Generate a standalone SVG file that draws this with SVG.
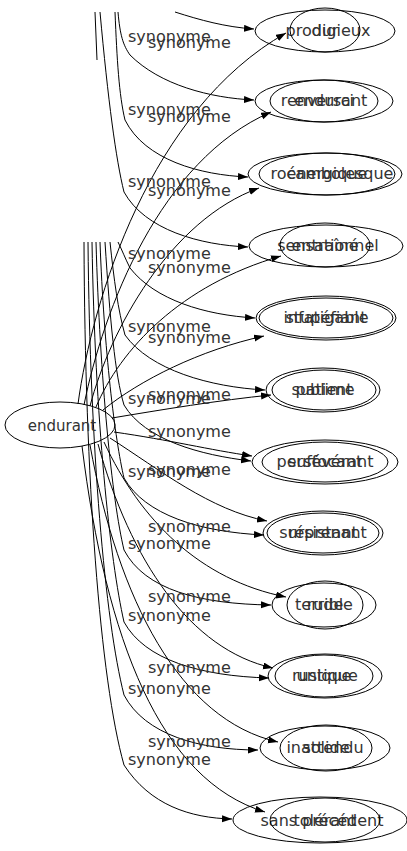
<svg xmlns="http://www.w3.org/2000/svg" width="407" height="851" viewBox="0 0 407 851">
<style>
.n ellipse{fill:none;stroke:#000;stroke-width:1}
.n text,.lbl text{font-family:"DejaVu Sans",sans-serif;font-size:16px;fill:#333}
.n text{text-anchor:middle}
.e path{fill:none;stroke:#000;stroke-width:1}
.e path.a{marker-end:url(#ah)}
</style>
<defs>
<marker id="ah" markerUnits="userSpaceOnUse" markerWidth="11" markerHeight="8" refX="10" refY="3.5" orient="auto">
<path d="M0,0 L10,3.5 L0,7 z" fill="#000"/>
</marker>
</defs>
<rect width="407" height="851" fill="#fff"/>
<g id="edges" class="e">
<path class="a" d="M78,404 C92,300 150,110 286,33"/>
<path class="a" d="M84,405 C103,310 160,160 271,112"/>
<path class="a" d="M90,406 C110,330 170,220 259,188"/>
<path class="a" d="M96,407 C120,350 180,285 281,256"/>
<path class="a" d="M103,410 C140,380 200,350 264,336"/>
<path class="a" d="M112,418 C160,410 220,400 271,395"/>
<path class="a" d="M114,432 C170,440 210,450 252,456"/>
<path class="a" d="M110,438 C160,470 210,510 267,521"/>
<path class="a" d="M104,442 C140,520 200,580 286,597"/>
<path class="a" d="M98,444 C130,560 190,650 273,668"/>
<path class="a" d="M90,445 C118,600 180,720 278,742"/>
<path class="a" d="M82,446 C106,640 160,780 265,812"/>
<path class="a" d="M175,12 C200,20 225,27 254,29"/>
<path class="a" d="M118,12 C120,35 123,45 130,55 C160,85 210,98 254,100"/>
<path class="a" d="M115,12 C117,60 119,95 125,120 C145,160 200,175 248,177"/>
<path class="a" d="M100,12 C108,100 116,160 124,192 C145,230 200,245 248,247"/>
<path d="M95,12 L97,60"/>
<path class="a" d="M118,242 C122,250 125,258 130,268 C155,300 205,315 255,318"/>
<path class="a" d="M110,242 C114,280 118,310 125,335 C150,370 210,387 265,390"/>
<path class="a" d="M105,242 C110,320 115,375 124,405 C145,440 200,455 251,461"/>
<path class="a" d="M100,242 C104,350 115,440 124,478 C145,515 200,532 264,535"/>
<path class="a" d="M96,242 C100,380 112,500 124,550 C145,590 200,604 271,605"/>
<path class="a" d="M92,242 C95,420 110,560 124,622 C145,660 200,676 269,678"/>
<path class="a" d="M88,242 C90,450 105,620 124,695 C145,735 200,750 258,750"/>
<path class="a" d="M84,242 C85,480 100,680 124,765 C150,805 190,818 232,819"/>
</g>
<g id="labels" class="lbl">
<text x="128" y="42">synonyme</text>
<text x="128" y="115">synonyme</text>
<text x="128" y="187">synonyme</text>
<text x="128" y="259">synonyme</text>
<text x="128" y="332">synonyme</text>
<text x="128" y="404">synonyme</text>
<text x="128" y="477">synonyme</text>
<text x="128" y="549">synonyme</text>
<text x="128" y="621">synonyme</text>
<text x="128" y="694">synonyme</text>
<text x="128" y="765">synonyme</text>
<text x="148" y="48">synonyme</text>
<text x="148" y="122">synonyme</text>
<text x="148" y="196">synonyme</text>
<text x="148" y="273">synonyme</text>
<text x="148" y="343">synonyme</text>
<text x="148" y="400">synonyme</text>
<text x="148" y="437">synonyme</text>
<text x="148" y="475">synonyme</text>
<text x="148" y="532">synonyme</text>
<text x="148" y="602">synonyme</text>
<text x="148" y="673">synonyme</text>
<text x="148" y="747">synonyme</text>
</g>
<g id="n-endurant" class="n"><ellipse cx="60" cy="425" rx="55" ry="23"/><text x="62" y="431" style="font-size:15px">endurant</text></g>
<g id="n-prodigieux" class="n"><ellipse cx="325" cy="31" rx="70" ry="21"/><text x="328" y="36">prodigieux</text></g>
<g id="n-dur" class="n"><ellipse cx="325" cy="30" rx="35" ry="22"/><text x="325" y="36">dur</text></g>
<g id="n-renversant" class="n"><ellipse cx="324" cy="101" rx="69" ry="21"/><text x="324" y="106">renversant</text></g>
<g id="n-endurci" class="n"><ellipse cx="324" cy="101" rx="54" ry="21"/><text x="324" y="106">endurci</text></g>
<g id="n-rocambolesque" class="n"><ellipse cx="325" cy="174" rx="77" ry="21"/><text x="332" y="179">rocambolesque</text></g>
<g id="n-energique" class="n"><ellipse cx="327" cy="174" rx="68" ry="21"/><text x="327" y="179">énergique</text></g>
<g id="n-sensationnel" class="n"><ellipse cx="326" cy="246" rx="77" ry="21"/><text x="328" y="251">sensationnel</text></g>
<g id="n-entraine" class="n"><ellipse cx="325" cy="245" rx="45" ry="22"/><text x="325" y="251">entraîné</text></g>
<g id="n-stupefiant" class="n"><ellipse cx="326" cy="318" rx="70" ry="22"/><text x="326" y="323">stupéfiant</text></g>
<g id="n-infatigable" class="n"><ellipse cx="326" cy="318" rx="67" ry="20"/><text x="326" y="323">infatigable</text></g>
<g id="n-sublime" class="n"><ellipse cx="323" cy="390" rx="57" ry="22"/><text x="323" y="395">sublime</text></g>
<g id="n-patient" class="n"><ellipse cx="324" cy="390" rx="52" ry="20"/><text x="324" y="395">patient</text></g>
<g id="n-perseverant" class="n"><ellipse cx="325" cy="462" rx="73" ry="22"/><text x="325" y="467">persévérant</text></g>
<g id="n-suffocant" class="n"><ellipse cx="325" cy="462" rx="63" ry="20"/><text x="325" y="467">suffocant</text></g>
<g id="n-surprenant" class="n"><ellipse cx="323" cy="533" rx="60" ry="22"/><text x="323" y="538">surprenant</text></g>
<g id="n-resistant" class="n"><ellipse cx="323" cy="533" rx="56" ry="20"/><text x="323" y="538">résistant</text></g>
<g id="n-terrible" class="n"><ellipse cx="324" cy="605" rx="52" ry="22"/><text x="324" y="610">terrible</text></g>
<g id="n-rude" class="n"><ellipse cx="325" cy="605" rx="38" ry="24"/><text x="325" y="610">rude</text></g>
<g id="n-rustique" class="n"><ellipse cx="325" cy="676" rx="57" ry="22"/><text x="325" y="681">rustique</text></g>
<g id="n-unique" class="n"><ellipse cx="324" cy="676" rx="49" ry="21"/><text x="324" y="681">unique</text></g>
<g id="n-inattendu" class="n"><ellipse cx="325" cy="748" rx="65" ry="22"/><text x="325" y="753">inattendu</text></g>
<g id="n-solide" class="n"><ellipse cx="326" cy="748" rx="46" ry="23"/><text x="326" y="753">solide</text></g>
<g id="n-sans-precedent" class="n"><ellipse cx="320" cy="820" rx="87" ry="23"/><text x="322" y="826">sans précédent</text></g>
<g id="n-tolerant" class="n"><ellipse cx="325" cy="820" rx="55" ry="22"/><text x="325" y="826">tolérant</text></g>
</svg>
